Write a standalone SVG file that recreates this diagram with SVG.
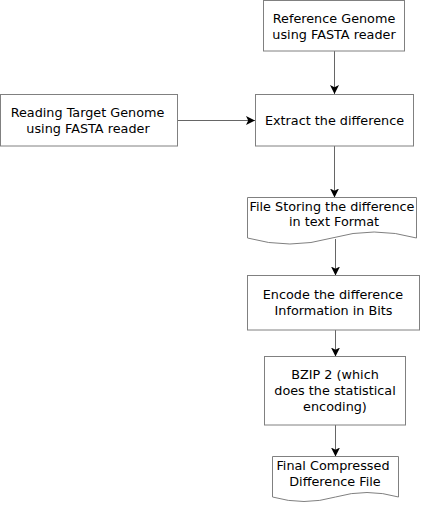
<svg xmlns="http://www.w3.org/2000/svg" width="422" height="508" viewBox="0 0 422 508">
<defs>
<marker id="ah" markerUnits="userSpaceOnUse" markerWidth="10" markerHeight="10" refX="9" refY="4.5" orient="auto">
<path d="M0,0 L9,4.5 L0,9 L2.2,4.5 z" fill="#000"/>
</marker>
<style>
.box{fill:#fff;stroke:#808080;stroke-width:1}
.t{font-family:"DejaVu Sans",sans-serif;font-size:12.8px;fill:#000;text-anchor:middle}
.c{fill:none;stroke:#666;stroke-width:1;marker-end:url(#ah)}
</style>
</defs>
<rect width="422" height="508" fill="#fff"/>
<g id="connectors">
<path class="c" d="M334.5,51 V94"/>
<path class="c" d="M177.5,120.5 H255"/>
<path class="c" d="M334.5,146 V197.5"/>
<path class="c" d="M335.5,239 V275.5"/>
<path class="c" d="M335.5,330 V356.5"/>
<path class="c" d="M335.5,425 V456.5"/>
</g>
<g id="ref">
<rect class="box" x="263.5" y="0.5" width="141" height="50.5"/>
<text class="t" x="334" y="23">Reference Genome</text>
<text class="t" x="334" y="39">using FASTA reader</text>
</g>
<g id="target">
<rect class="box" x="0.5" y="94.5" width="177" height="51.5"/>
<text class="t" x="87.5" y="117">Reading Target Genome</text>
<text class="t" x="88" y="133">using FASTA reader</text>
</g>
<g id="extract">
<rect class="box" x="255.5" y="94.5" width="158" height="51.5"/>
<text class="t" x="334.5" y="125">Extract the difference</text>
</g>
<g id="filestore">
<path class="box" d="M247.5,197.5 H416.5 V238 Q374,226 332,238 Q290,250 247.5,238 Z"/>
<text class="t" x="332" y="211">File Storing the difference</text>
<text class="t" x="334" y="226">in text Format</text>
</g>
<g id="encode">
<rect class="box" x="247.5" y="275.5" width="172" height="54.5"/>
<text class="t" x="333" y="299">Encode the difference</text>
<text class="t" x="333.5" y="315">Information in Bits</text>
</g>
<g id="bzip">
<rect class="box" x="264.5" y="356.5" width="141" height="68.5"/>
<text class="t" x="335" y="379">BZIP 2 (which</text>
<text class="t" x="335" y="395">does the statistical</text>
<text class="t" x="335" y="411">encoding)</text>
</g>
<g id="final">
<path class="box" d="M272.5,456.5 H398.5 V497 Q367,488 335.5,497 Q304,506 272.5,497 Z"/>
<text class="t" x="333" y="470">Final Compressed</text>
<text class="t" x="335" y="486">Difference File</text>
</g>
</svg>
